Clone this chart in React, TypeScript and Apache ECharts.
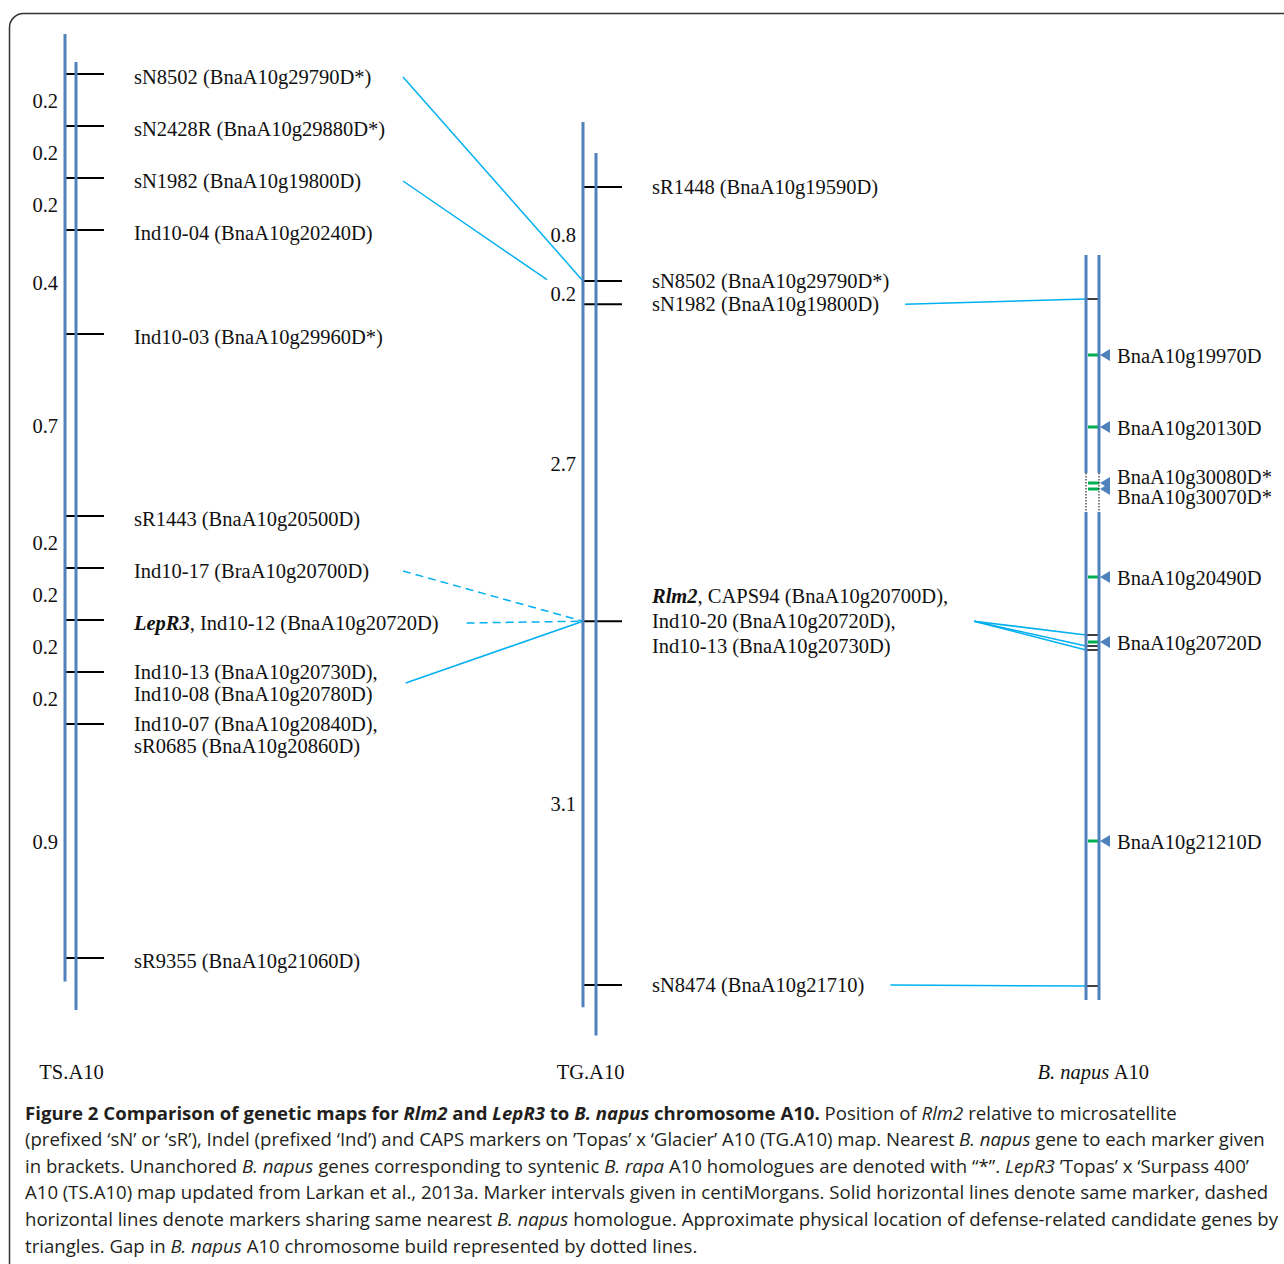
import React, { useEffect, useRef } from "react";
import * as echarts from "echarts";

// ---------------- data ----------------
// 'Topas' x 'Surpass 400' A10 map (TS.A10): marker labels (top to bottom) and intervals (cM)
const tsLabels = [
  "sN8502 (BnaA10g29790D*)",
  "sN2428R (BnaA10g29880D*)",
  "sN1982 (BnaA10g19800D)",
  "Ind10-04 (BnaA10g20240D)",
  "Ind10-03 (BnaA10g29960D*)",
  "sR1443 (BnaA10g20500D)",
  "Ind10-17 (BraA10g20700D)",
  "{bi|LepR3}, Ind10-12 (BnaA10g20720D)",
  "Ind10-13 (BnaA10g20730D),\nInd10-08 (BnaA10g20780D)",
  "Ind10-07 (BnaA10g20840D),\nsR0685 (BnaA10g20860D)",
  "sR9355 (BnaA10g21060D)",
];
const tsIntervals = [0.2, 0.2, 0.2, 0.4, 0.7, 0.2, 0.2, 0.2, 0.2, 0.9];
const tsStrands = [
  [-0.154, 3.49],
  [-0.046, 3.6],
];

// 'Topas' x 'Glacier' A10 map (TG.A10)
const tgLabels = [
  "sR1448 (BnaA10g19590D)",
  "sN8502 (BnaA10g29790D*)",
  "sN1982 (BnaA10g19800D)",
  "{bi|Rlm2}, CAPS94 (BnaA10g20700D),\nInd10-20 (BnaA10g20720D),\nInd10-13 (BnaA10g20730D)",
  "sN8474 (BnaA10g21710)",
];
const tgIntervals = [0.8, 0.2, 2.7, 3.1];
const tgStrands = [
  [-0.554, 6.99],
  [-0.29, 7.23],
];

// B. napus A10 physical map (relative position units)
const bnMarkerNames = ["sN1982", "CAPS94", "Ind10-20", "Ind10-13", "sN8474"];
const bnMarkerPos = [0.44, 3.8, 3.91, 3.95, 7.31];
const bnGenes = [
  "BnaA10g19970D",
  "BnaA10g20130D",
  "BnaA10g30080D*",
  "BnaA10g30070D*",
  "BnaA10g20490D",
  "BnaA10g20720D",
  "BnaA10g21210D",
];
const bnGenePos = [1.0, 1.72, 2.28, 2.34, 3.22, 3.87, 5.86];
const bnAssembled = [
  [0, 2.18],
  [2.57, 7.45],
];
const bnGaps = [[2.18, 2.57]];

const mapTitles = ["TS.A10", "TG.A10", "{i|B. napus} A10"];

// links TS -> TG (marker indices), solid = same marker, dashed = same homologue
const tsToTg = [
  { from: 0, to: 1, dashed: false, reach: 1 },
  { from: 2, to: 2, dashed: false, reach: 0.8 },
  { from: 6, to: 3, dashed: true, reach: 1 },
  { from: 7, to: 3, dashed: true, reach: 1 },
  { from: 8, to: 3, dashed: false, reach: 1 },
];
// links TG -> B. napus marker
const tgToBn = [
  { from: 2, to: 0 },
  { from: 3, to: 1 },
  { from: 3, to: 2 },
  { from: 3, to: 3 },
  { from: 4, to: 4 },
];

const captionLines = [
  "{b|Figure 2 Comparison of genetic maps for }{bi|Rlm2 }{b|and }{bi|LepR3 }{b|to }{bi|B. napus }{b|chromosome A10. }Position of {i|Rlm2 }relative to microsatellite",
  "(prefixed ‘sN’ or ‘sR’), Indel (prefixed ‘Ind’) and CAPS markers on ’Topas’ x ‘Glacier’ A10 (TG.A10) map. Nearest {i|B. napus }gene to each marker given",
  "in brackets. Unanchored {i|B. napus }genes corresponding to syntenic {i|B. rapa }A10 homologues are denoted with “*”. {i|LepR3 }’Topas’ x ‘Surpass 400’",
  "A10 (TS.A10) map updated from Larkan et al., 2013a. Marker intervals given in centiMorgans. Solid horizontal lines denote same marker, dashed",
  "horizontal lines denote markers sharing same nearest {i|B. napus }homologue. Approximate physical location of defense-related candidate genes by",
  "triangles. Gap in {i|B. napus }A10 chromosome build represented by dotted lines.",
];

// ---------------- styling / layout ----------------
const SERIF = "'Liberation Serif', 'Times New Roman', Times, serif";
const SANS = "'Open Sans', Lato, sans-serif";
const FS = 20.5;
const CAP_FS = 18.6;
const BLUE = "#4f81bd";
const CYAN = "#00b0f0";
const GREEN = "#00b050";
const INK = "#111";
const CAP_INK = "#231f20";

const L = [
  { left: 65, top: 22, height: 1040, min: -0.2, max: 3.8, strand: 11, labelX: 69, labelDy: 3, multiDy: -3, anchor: "first", lh: 22, connX: 338 },
  { left: 583, top: 116.6, height: 927.1, min: -0.6, max: 7.3, strand: 13, labelX: 69, labelDy: 0, multiDy: 0, anchor: "center", lh: 25, connX: 0 },
  { left: 1086, top: 255, height: 750, min: 0, max: 7.5, strand: 13, labelX: 31, labelDy: 1, multiDy: 0, anchor: "center", lh: 22, connX: 0 },
];

const cumsum = (arr: number[]) => {
  const out = [0];
  arr.forEach((v) => out.push(Math.round((out[out.length - 1] + v) * 1000) / 1000));
  return out;
};
const tsPos = cumsum(tsIntervals);
const tgPos = cumsum(tgIntervals);

const serifRich = {
  bi: { fontFamily: SERIF, fontSize: FS, fontWeight: "bold", fontStyle: "italic", fill: INK },
  i: { fontFamily: SERIF, fontSize: FS, fontStyle: "italic", fill: INK },
};
const capRich = {
  b: { fontFamily: SANS, fontSize: CAP_FS, fontWeight: "bold", fill: CAP_INK },
  bi: { fontFamily: SANS, fontSize: CAP_FS, fontWeight: "bold", fontStyle: "italic", fill: CAP_INK },
  i: { fontFamily: SANS, fontSize: CAP_FS, fontStyle: "italic", fill: CAP_INK },
};

function textStyle(text: string, align: string, extra: any = {}) {
  return {
    text,
    fill: INK,
    fontFamily: SERIF,
    fontSize: FS,
    align,
    verticalAlign: "middle",
    textAlign: align,
    textVerticalAlign: "middle",
    rich: serifRich,
    ...extra,
  };
}

function labelCenter(g: number, y: number, label: string) {
  const n = label.split("\n").length;
  const cfg = L[g];
  const extra = n > 1 ? cfg.multiDy : 0;
  return cfg.anchor === "first" ? y + cfg.labelDy + extra + ((n - 1) * cfg.lh) / 2 : y + cfg.labelDy + extra;
}

function strandSeries(g: number, strands: number[][], z = 3) {
  return {
    type: "custom",
    xAxisIndex: g,
    yAxisIndex: g,
    clip: false,
    silent: true,
    z,
    data: strands.map((s, k) => [0, s[0], s[1], k]),
    renderItem: (params: any, api: any) => {
      const x = params.coordSys.x + api.value(3) * L[g].strand;
      const y1 = api.coord([0, api.value(1)])[1];
      const y2 = api.coord([0, api.value(2)])[1];
      return { type: "line", shape: { x1: x, y1, x2: x, y2 }, style: { stroke: BLUE, lineWidth: 3 } };
    },
  };
}

function markerSeries(g: number, pos: number[], labels: string[]) {
  return {
    type: "custom",
    xAxisIndex: g,
    yAxisIndex: g,
    clip: false,
    silent: true,
    z: 2,
    data: pos.map((p) => [0, p]),
    renderItem: (params: any, api: any) => {
      const i = params.dataIndex;
      const x0 = params.coordSys.x;
      const y = api.coord([0, api.value(1)])[1];
      const ly = labelCenter(g, y, labels[i]);
      return {
        type: "group",
        children: [
          { type: "line", shape: { x1: x0, y1: y, x2: x0 + 39, y2: y }, style: { stroke: "#000", lineWidth: 2 } },
          { type: "text", x: x0 + L[g].labelX, y: ly, style: textStyle(labels[i], "left", { lineHeight: L[g].lh }) },
        ],
      };
    },
  };
}

function intervalSeries(g: number, pos: number[], intervals: number[]) {
  return {
    type: "custom",
    xAxisIndex: g,
    yAxisIndex: g,
    clip: false,
    silent: true,
    z: 2,
    data: intervals.map((v, i) => [0, (pos[i] + pos[i + 1]) / 2, v]),
    renderItem: (params: any, api: any) => {
      const x0 = params.coordSys.x;
      const y = api.coord([0, api.value(1)])[1];
      return { type: "text", x: x0 - 7, y: y + 1, style: textStyle(String(api.value(2)), "right") };
    },
  };
}

function spread(ys: number[], gap: number) {
  const out = ys.slice();
  for (let i = 1; i < out.length; i++) {
    if (out[i] - out[i - 1] < gap) {
      const c = (ys[i] + ys[i - 1]) / 2;
      out[i - 1] = c - gap / 2;
      out[i] = c + gap / 2;
    }
  }
  return out;
}

export default function App() {
  const ref = useRef<HTMLDivElement>(null);

  useEffect(() => {
    if (!ref.current) return;
    const chart = echarts.init(ref.current, undefined, { renderer: "svg" });

    const grid = L.map((c) => ({ left: c.left, top: c.top, width: 20, height: c.height, containLabel: false }));
    const xAxis = L.map((_, g) => ({ type: "value", gridIndex: g, min: 0, max: 1, show: false }));
    const yAxis = L.map((c, g) => ({ type: "value", gridIndex: g, min: c.min, max: c.max, inverse: true, show: false }));

    const bnSeries: any[] = [
      // assembled segments, both strands
      {
        type: "custom",
        xAxisIndex: 2,
        yAxisIndex: 2,
        clip: false,
        silent: true,
        z: 3,
        data: bnAssembled.flatMap((s) => [0, 1].map((k) => [0, s[0], s[1], k])),
        renderItem: (params: any, api: any) => {
          const x = params.coordSys.x + api.value(3) * L[2].strand;
          const y1 = api.coord([0, api.value(1)])[1];
          const y2 = api.coord([0, api.value(2)])[1];
          return { type: "line", shape: { x1: x, y1, x2: x, y2 }, style: { stroke: BLUE, lineWidth: 3 } };
        },
      },
      // gaps in build (dotted)
      {
        type: "custom",
        xAxisIndex: 2,
        yAxisIndex: 2,
        clip: false,
        silent: true,
        z: 3,
        data: bnGaps.flatMap((s) => [0, 1].map((k) => [0, s[0], s[1], k])),
        renderItem: (params: any, api: any) => {
          const x = params.coordSys.x + api.value(3) * L[2].strand;
          const y1 = api.coord([0, api.value(1)])[1];
          const y2 = api.coord([0, api.value(2)])[1];
          return { type: "line", shape: { x1: x, y1, x2: x, y2 }, style: { stroke: "#000", lineWidth: 1, lineDash: [1.5, 1.5] } };
        },
      },
      // markers (black ticks)
      {
        type: "custom",
        xAxisIndex: 2,
        yAxisIndex: 2,
        clip: false,
        silent: true,
        z: 2,
        data: bnMarkerPos.map((p, i) => [0, p, i]),
        renderItem: (params: any, api: any) => {
          const x0 = params.coordSys.x;
          const y = api.coord([0, api.value(1)])[1];
          return { type: "line", shape: { x1: x0, y1: y, x2: x0 + 13, y2: y }, style: { stroke: "#000", lineWidth: 1.5 } };
        },
      },
      // candidate genes
      {
        type: "custom",
        xAxisIndex: 2,
        yAxisIndex: 2,
        clip: false,
        silent: true,
        z: 2,
        data: bnGenePos.map((p, i) => [0, p, i]),
        renderItem: (params: any, api: any) => {
          const i = params.dataIndex;
          const x0 = params.coordSys.x;
          const ys = bnGenePos.map((p) => api.coord([0, p])[1]);
          const y = ys[i];
          const ly = spread(ys, 20)[i] + L[2].labelDy;
          return {
            type: "group",
            children: [
              { type: "line", shape: { x1: x0 + 2, y1: y, x2: x0 + 13, y2: y }, style: { stroke: GREEN, lineWidth: 3 } },
              {
                type: "polygon",
                shape: { points: [[x0 + 14, y], [x0 + 24, y - 6], [x0 + 24, y + 6]] },
                style: { fill: BLUE },
              },
              { type: "text", x: x0 + L[2].labelX, y: ly, style: textStyle(bnGenes[i], "left") },
            ],
          };
        },
      },
    ];

    chart.setOption({
      animation: false,
      backgroundColor: "#fff",
      grid,
      xAxis,
      yAxis,
      series: [
        strandSeries(0, tsStrands),
        markerSeries(0, tsPos, tsLabels),
        intervalSeries(0, tsPos, tsIntervals),
        strandSeries(1, tgStrands),
        markerSeries(1, tgPos, tgLabels),
        intervalSeries(1, tgPos, tgIntervals),
        ...bnSeries,
      ],
    });

    // ---- second pass: connectors between maps, titles, caption, frame ----
    const canvas = document.createElement("canvas");
    const ctx = canvas.getContext("2d") as CanvasRenderingContext2D;
    const labelWidth = (label: string) =>
      Math.max(
        ...label.split("\n").map((line) => {
          let w = 0;
          line.replace(/\{([a-z]+)\|([^}]*)\}|([^{]+)/g, (_m, st, inner, plain) => {
            if (st) {
              ctx.font = `${st === "bi" ? "italic bold " : "italic "}${FS}px ${SERIF}`;
              w += ctx.measureText(inner).width;
            } else {
              ctx.font = `${FS}px ${SERIF}`;
              w += ctx.measureText(plain).width;
            }
            return "";
          });
          return w;
        })
      );
    const px = (g: number, p: number) => chart.convertToPixel({ gridIndex: g } as any, [0, p]) as number[];

    const graphics: any[] = [];
    tsToTg.forEach((c, k) => {
      const [gx, my] = px(0, tsPos[c.from]);
      const sy = labelCenter(0, my, tsLabels[c.from]);
      const sx = Math.max(gx + L[0].connX, gx + L[0].labelX + labelWidth(tsLabels[c.from]) + 28);
      const [ex, ey] = px(1, tgPos[c.to]);
      graphics.push({
        type: "line",
        id: "ts" + k,
        silent: true,
        z: 1,
        shape: { x1: sx, y1: sy, x2: sx + (ex - sx) * c.reach, y2: sy + (ey - sy) * c.reach },
        style: { stroke: CYAN, lineWidth: 1.5, lineDash: c.dashed ? [8, 5] : null },
      });
    });
    tgToBn.forEach((c, k) => {
      const [gx, my] = px(1, tgPos[c.from]);
      const sy = labelCenter(1, my, tgLabels[c.from]);
      const sx = gx + L[1].labelX + labelWidth(tgLabels[c.from]) + 26;
      const [ex, ey] = px(2, bnMarkerPos[c.to]);
      graphics.push({
        type: "line",
        id: "tg" + k,
        silent: true,
        z: 1,
        shape: { x1: sx, y1: sy, x2: ex, y2: ey },
        style: { stroke: CYAN, lineWidth: 1.5 },
      });
    });

    mapTitles.forEach((t, g) => {
      graphics.push({
        type: "text",
        id: "title" + g,
        silent: true,
        x: L[g].left + L[g].strand / 2 + 1,
        y: 1072,
        style: textStyle(t, "center"),
      });
    });

    captionLines.forEach((t, k) => {
      graphics.push({
        type: "text",
        id: "cap" + k,
        silent: true,
        x: 25,
        y: 1112 + k * 26.6,
        style: {
          text: t,
          fill: CAP_INK,
          fontFamily: SANS,
          fontSize: CAP_FS,
          align: "left",
          verticalAlign: "middle",
          textAlign: "left",
          textVerticalAlign: "middle",
          rich: capRich,
        },
      });
    });

    graphics.push({
      type: "rect",
      id: "frame",
      silent: true,
      shape: { x: 9.5, y: 13.5, width: 1500, height: 1500, r: 14 },
      style: { fill: "none", stroke: "#333", lineWidth: 1.5 },
    });

    chart.setOption({ graphic: graphics });

    return () => chart.dispose();
  }, []);

  return (
    <div
      ref={ref}
      style={{ position: "absolute", left: 0, top: 0, width: 1284, height: 1264, background: "#fff" }}
    />
  );
}
